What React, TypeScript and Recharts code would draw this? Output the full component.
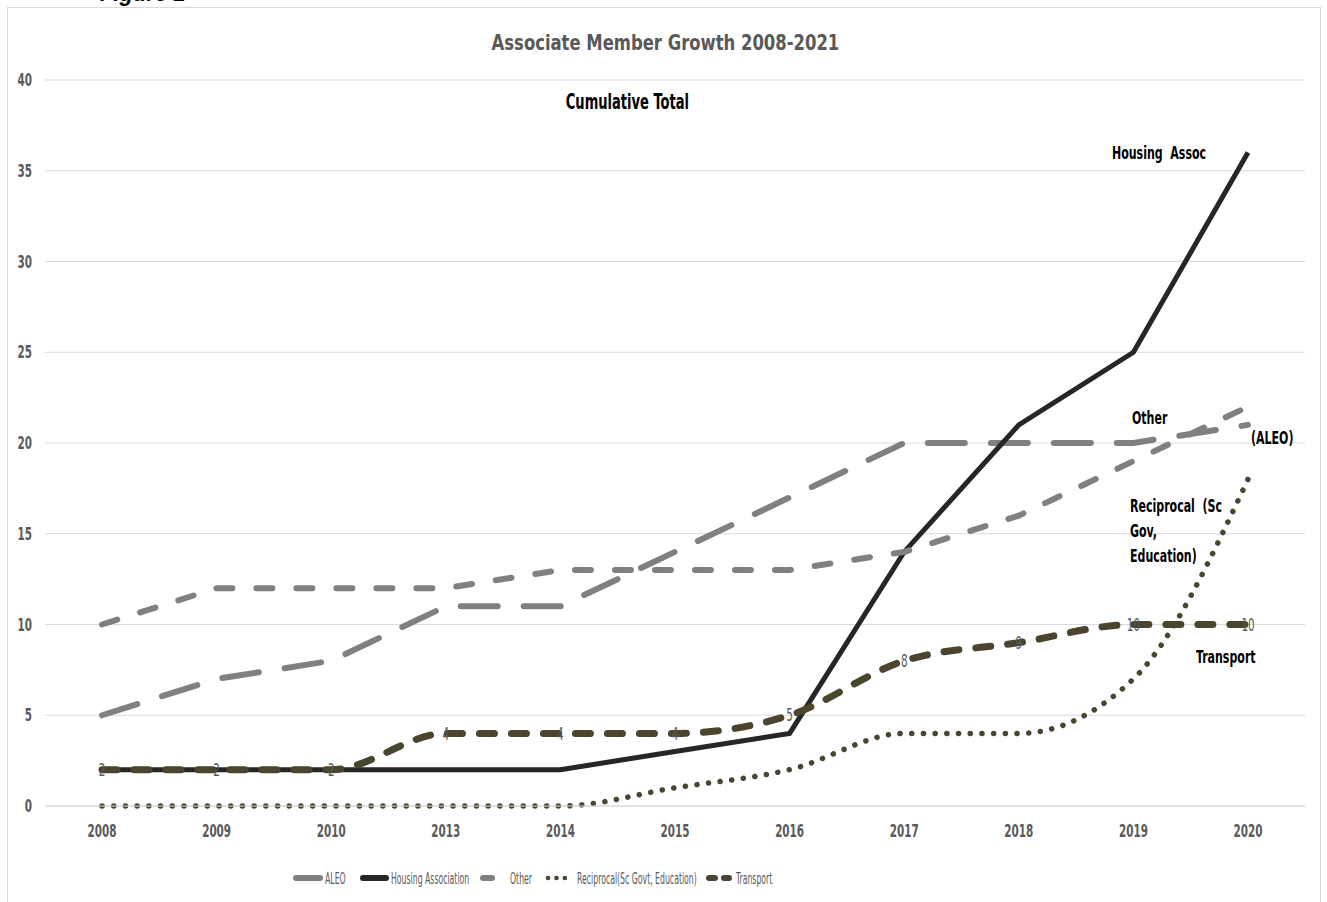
import { CartesianGrid, LabelList, Line, LineChart, XAxis, YAxis } from "recharts";

const years = ["2008", "2009", "2010", "2013", "2014", "2015", "2016", "2017", "2018", "2019", "2020"];
const aleo = [5, 7, 8, 11, 11, 14, 17, 20, 20, 20, 21];
const housing = [2, 2, 2, 2, 2, 3, 4, 14, 21, 25, 36];
const other = [10, 12, 12, 12, 13, 13, 13, 14, 16, 19, 22];
const reciprocal = [0, 0, 0, 0, 0, 1, 2, 4, 4, 7, 18];
const transport = [2, 2, 2, 4, 4, 4, 5, 8, 9, 10, 10];
const yTicks = [0, 5, 10, 15, 20, 25, 30, 35, 40];

const data = years.map((year, i) => ({
  year,
  aleo: aleo[i],
  housing: housing[i],
  other: other[i],
  reciprocal: reciprocal[i],
  transport: transport[i],
}));

const FONT = "'DejaVu Sans Condensed', 'DejaVu Sans', sans-serif";
const GREY = "#808080";
const OLIVE = "#4b4530";
const LABEL = "#595959";
// the source picture is squeezed horizontally, so text is drawn narrow
const SQUEEZE = 0.68;

// legend layout (icon start, icon length, text start)
const legendItems = [
  { label: "ALEO", color: GREY, width: 6, dash: "", x: 296, len: 24, tx: 325 },
  { label: "Housing Association", color: "#262626", width: 6, dash: "", x: 363, len: 23, tx: 391 },
  { label: "Other", color: GREY, width: 6, dash: "", x: 483, len: 9, tx: 510 },
  { label: "Reciprocal(Sc Govt, Education)", color: OLIVE, width: 4.5, dash: "0.1 8.3", x: 548, len: 25, tx: 577 },
  { label: "Transport", color: OLIVE, width: 6, dash: "6 9", x: 709, len: 20, tx: 736 },
];

function NarrowTick(props: any) {
  const { x, y, payload, textAnchor, dy } = props;
  return (
    <g transform={`translate(${x},${y}) scale(${SQUEEZE},1)`}>
      <text
        x={0}
        y={0}
        dy={dy}
        textAnchor={textAnchor}
        fill={LABEL}
        fontSize={17}
        fontWeight={700}
        fontFamily={FONT}
      >
        {payload.value}
      </text>
    </g>
  );
}

function PointLabel(props: any) {
  const { x, y, value } = props;
  return (
    <g transform={`translate(${x},${y}) scale(${SQUEEZE},1)`}>
      <text x={0} y={0} dy="0.36em" textAnchor="middle" fill={LABEL} fontSize={17} fontFamily={FONT}>
        {value}
      </text>
    </g>
  );
}

function LegendRow() {
  return (
    <svg width={1327} height={30} style={{ position: "absolute", left: 0, top: 863 }}>
      {legendItems.map((it) => (
        <g key={it.label}>
          <line
            x1={it.x}
            y1={15}
            x2={it.x + it.len}
            y2={15}
            stroke={it.color}
            strokeWidth={it.width}
            strokeLinecap="round"
            strokeDasharray={it.dash || undefined}
          />
          <g transform={`translate(${it.tx},15) scale(0.54,1)`}>
            <text x={0} y={0} dy="0.36em" fontSize={16} fontFamily={FONT} fill={LABEL}>
              {it.label}
            </text>
          </g>
        </g>
      ))}
    </svg>
  );
}

const note = (x: number, y: number, text: string) => (
  <div
    style={{
      position: "absolute",
      left: x,
      top: y,
      fontFamily: FONT,
      fontWeight: 700,
      fontSize: 17,
      color: "#000",
      lineHeight: "25px",
      whiteSpace: "pre",
      transform: "scaleX(0.72)",
      transformOrigin: "left center",
    }}
  >
    {text}
  </div>
);

const centred = (cx: number, cy: number, text: string, size: number, scale: number, color: string) => (
  <div
    style={{
      position: "absolute",
      left: cx - 400,
      width: 800,
      top: cy - 15,
      lineHeight: "30px",
      textAlign: "center",
      fontFamily: FONT,
      fontWeight: 700,
      fontSize: size,
      color,
    }}
  >
    <span style={{ display: "inline-block", transform: `scaleX(${scale})` }}>{text}</span>
  </div>
);

export default function App() {
  return (
    <div
      style={{
        position: "absolute",
        left: 0,
        top: 0,
        width: 1327,
        height: 902,
        overflow: "hidden",
        background: "#fff",
      }}
    >
      <div
        style={{
          position: "absolute",
          left: 100,
          top: -19,
          fontFamily: "Arial, sans-serif",
          fontWeight: 700,
          fontStyle: "italic",
          fontSize: 22,
        }}
      >
        Figure 1
      </div>
      <div
        style={{
          position: "absolute",
          left: 7,
          top: 7,
          width: 1312,
          height: 940,
          border: "1px solid #d9d9d9",
        }}
      />
      <LineChart
        width={1327}
        height={902}
        data={data}
        margin={{ top: 80, right: 22, bottom: 66, left: 0 }}
        style={{ position: "absolute", left: 0, top: 0 }}
      >
        <CartesianGrid vertical={false} stroke="#d9d9d9" strokeWidth={1.2} />
        <XAxis
          dataKey="year"
          height={30}
          padding={{ left: 57, right: 57 }}
          axisLine={{ stroke: "#d9d9d9" }}
          tickLine={false}
          tickSize={0}
          tickMargin={19}
          tick={(p: any) => <NarrowTick {...p} dy="0.71em" />}
        />
        <YAxis
          width={45}
          domain={[0, 40]}
          ticks={yTicks}
          axisLine={false}
          tickLine={false}
          tickSize={0}
          tickMargin={13}
          tick={(p: any) => <NarrowTick {...p} dy="0.36em" />}
        />
        <Line
          dataKey="aleo"
          name="ALEO"
          type="linear"
          stroke={GREY}
          strokeWidth={6}
          strokeDasharray="37 26"
          strokeLinecap="round"
          dot={false}
          activeDot={false}
          isAnimationActive={false}
        />
        <Line
          dataKey="housing"
          name="Housing Association"
          type="linear"
          stroke="#262626"
          strokeWidth={5}
          dot={false}
          activeDot={false}
          isAnimationActive={false}
        />
        <Line
          dataKey="other"
          name="Other"
          type="linear"
          stroke={GREY}
          strokeWidth={6}
          strokeDasharray="16 24"
          strokeLinecap="round"
          dot={false}
          activeDot={false}
          isAnimationActive={false}
        />
        <Line
          dataKey="reciprocal"
          name="Reciprocal(Sc Govt, Education)"
          type="monotone"
          stroke={OLIVE}
          strokeWidth={5.5}
          strokeDasharray="0.1 11.6"
          strokeLinecap="round"
          dot={false}
          activeDot={false}
          isAnimationActive={false}
        />
        <Line
          dataKey="transport"
          name="Transport"
          type="monotone"
          stroke={OLIVE}
          strokeWidth={7}
          strokeDasharray="15 17"
          strokeLinecap="round"
          dot={false}
          activeDot={false}
          isAnimationActive={false}
        >
          <LabelList dataKey="transport" content={(p: any) => <PointLabel {...p} />} />
        </Line>
      </LineChart>
      <LegendRow />
      {centred(665, 43, "Associate Member Growth 2008-2021", 22, 0.83, LABEL)}
      {centred(627, 102, "Cumulative Total", 22, 0.66, "#000")}
      {note(1112, 141, "Housing  Assoc")}
      {note(1132, 406, "Other")}
      {note(1251, 426, "(ALEO)")}
      {note(1130, 494, "Reciprocal  (Sc\nGov,\nEducation)")}
      {note(1196, 645, "Transport")}
    </div>
  );
}
